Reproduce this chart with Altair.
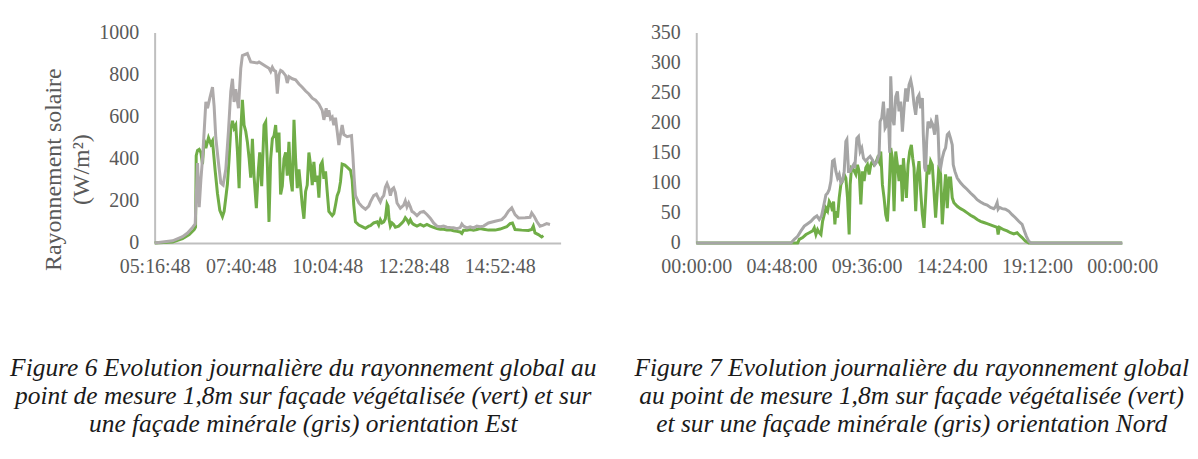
import altair as alt
import pandas as pd

FONT = "Liberation Serif"
GREY_E = "#AEAAAA"
GREY_N = "#A5A5A5"
GREEN = "#70AD47"
LABEL = "#595959"
AXIS = "#BFBFBF"

# ---------- Figure 6 : orientation Est (times = minutes after midnight) ----------
est_gris_t = [316.8, 346.8, 363.4, 371.7, 380.1, 384.5, 388.4, 391.2, 394.0, 396.7, 399.5, 402.3,
              405.1, 409.0, 413.4, 416.1, 418.9, 423.4, 427.3, 431.1, 435.6, 440.0, 443.9, 446.7,
              449.4, 452.2, 456.7, 460.6, 463.3, 471.6, 477.2, 488.3, 491.1, 502.2, 507.7, 510.5,
              513.3, 516.1, 518.8, 521.6, 524.4, 527.1, 529.9, 535.5, 538.2, 541.0, 546.6, 552.1,
              557.7, 563.2, 568.8, 574.3, 579.9, 585.4, 591.0, 596.5, 599.3, 603.2, 604.8, 607.6,
              610.4, 613.2, 615.9, 618.7, 621.5, 624.3, 627.0, 629.8, 632.6, 638.1, 645.4, 647.6,
              649.8, 652.0, 657.6, 663.1, 668.7, 674.2, 677.0, 682.5, 687.0, 690.8, 693.6, 696.4,
              699.2, 701.9, 704.7, 707.5, 710.3, 713.0, 715.8, 718.6, 721.4, 726.9, 732.5, 735.2,
              738.0, 740.8, 743.6, 746.3, 749.1, 754.7, 760.2, 765.8, 771.3, 776.9, 782.4, 788.0,
              793.5, 799.1, 804.6, 810.2, 815.7, 821.3, 826.8, 829.6, 832.4, 837.9, 843.5, 849.0,
              854.6, 860.1, 865.7, 874.0, 885.1, 896.2, 901.8, 907.3, 912.9, 918.4, 924.0, 935.1,
              943.4, 946.2, 950.6, 954.5, 960.0, 965.6, 971.1, 976.7]
est_gris_v = [0, 10, 30, 47, 74, 90, 380, 170, 300, 400, 530, 670,
              640, 690, 740, 650, 500, 380, 285, 275, 350, 530, 720, 780,
              670, 730, 640, 830, 890, 900, 860, 855, 860, 840, 830, 815,
              835, 820, 815, 710, 800, 820, 815, 795, 760, 790, 780, 775,
              755, 740, 722, 708, 688, 678, 660, 630, 585, 640, 600, 630,
              590, 598, 560, 595, 530, 465, 515, 560, 515, 505, 510, 420,
              310, 225, 190, 172, 160, 175, 195, 225, 232, 210, 195, 215,
              225, 265, 282, 262, 225, 255, 262, 240, 190, 165, 180, 200,
              172, 190, 172, 150, 145, 130, 145, 150, 135, 118, 95, 80,
              77, 80, 75, 73, 72, 68, 73, 90, 80, 72, 77, 72,
              80, 77, 80, 95, 103, 111, 127, 151, 167, 135, 119, 120,
              122, 143, 125, 103, 80, 85, 92, 88]

est_vert_t = [316.8, 346.8, 363.4, 374.5, 382.8, 385.1, 386.2, 388.4, 391.2, 394.0, 396.7, 399.5,
              402.3, 406.7, 410.6, 413.4, 417.8, 421.7, 425.6, 430.0, 432.8, 435.6, 438.3, 441.1,
              443.9, 446.7, 449.4, 452.2, 455.0, 457.8, 460.0, 463.3, 466.1, 468.9, 471.6, 474.4,
              477.2, 480.0, 482.7, 486.6, 490.0, 492.2, 495.5, 499.4, 502.2, 505.0, 507.7, 510.5,
              513.3, 516.1, 518.8, 521.6, 524.4, 527.1, 529.9, 532.7, 535.5, 538.2, 541.0, 543.8,
              546.6, 549.4, 552.1, 554.9, 557.7, 560.4, 563.2, 566.0, 568.8, 571.5, 574.3, 577.1,
              579.9, 582.6, 585.4, 588.2, 591.0, 593.7, 596.5, 599.3, 602.1, 604.8, 607.6, 613.2,
              615.9, 618.7, 621.5, 624.3, 627.0, 629.8, 634.3, 638.1, 643.7, 646.5, 649.2, 652.0,
              657.6, 663.1, 668.7, 674.2, 677.0, 682.5, 688.1, 690.8, 693.6, 696.4, 699.2, 701.9,
              704.7, 706.4, 708.0, 710.3, 713.0, 715.8, 718.6, 724.1, 729.7, 732.5, 735.2, 738.0,
              740.8, 743.6, 746.3, 749.1, 754.7, 760.2, 765.8, 771.3, 776.9, 782.4, 788.0, 793.5,
              799.1, 804.6, 810.2, 815.7, 821.3, 826.8, 829.6, 832.4, 837.9, 843.5, 849.0, 854.6,
              860.1, 865.7, 874.0, 885.1, 893.4, 899.0, 904.5, 910.1, 914.0, 918.4, 929.5, 940.6,
              946.2, 948.9, 951.7, 957.3, 962.8, 965.6]
est_vert_v = [0, 5, 20, 40, 63, 75, 415, 440, 445, 430, 375, 490,
              450, 500, 470, 485, 345, 235, 155, 125, 150, 215, 280, 400,
              545, 580, 545, 560, 435, 260, 500, 680, 560, 530, 480, 405,
              310, 495, 320, 165, 350, 430, 270, 560, 575, 370, 100, 400,
              495, 510, 560, 430, 525, 230, 270, 400, 430, 320, 480, 305,
              245, 585, 400, 260, 350, 270, 180, 115, 245, 275, 430, 370,
              275, 385, 290, 320, 215, 370, 385, 305, 340, 245, 150, 130,
              140, 180, 225, 245, 290, 375, 370, 360, 345, 300, 180, 100,
              85, 78, 70, 80, 82, 95, 100, 85, 110, 95, 100, 115,
              185, 175, 115, 80, 95, 88, 75, 80, 95, 105, 120, 110,
              95, 110, 95, 88, 80, 88, 80, 88, 80, 74, 68, 65,
              65, 62, 62, 58, 55, 52, 45, 60, 60, 64, 60, 64,
              68, 65, 61, 61, 66, 72, 77, 92, 95, 64, 61, 59,
              64, 80, 48, 40, 29, 35]

# ---------- Figure 7 : orientation Nord ----------
nord_gris_t = [0, 320.3, 331.6, 342.8, 354.0, 365.3, 376.5, 387.8, 399.0, 408.0, 415.9, 423.7,
               430.5, 438.3, 444.0, 449.6, 455.2, 460.8, 466.4, 472.1, 477.7, 483.3, 488.9, 494.5,
               500.2, 505.8, 509.2, 514.8, 520.4, 526.0, 531.6, 536.1, 542.9, 548.5, 554.1, 559.7,
               565.4, 573.2, 581.1, 587.8, 595.7, 603.6, 610.3, 618.2, 621.6, 627.2, 632.8, 638.4,
               644.0, 648.5, 654.1, 657.5, 663.1, 668.8, 674.4, 680.0, 685.6, 691.3, 696.9, 702.5,
               708.2, 713.8, 719.4, 725.0, 730.6, 736.3, 741.9, 747.5, 753.1, 758.7, 764.4, 767.7,
               772.2, 775.6, 779.0, 783.5, 790.2, 794.7, 800.3, 806.0, 812.7, 817.2, 821.7, 826.2,
               831.8, 837.4, 843.0, 848.7, 854.3, 859.9, 865.5, 868.9, 874.5, 882.4, 893.6, 904.9,
               916.1, 927.3, 938.6, 949.8, 961.1, 972.3, 983.5, 994.8, 1006.0, 1011.6, 1017.3, 1020.6,
               1025.1, 1034.1, 1045.4, 1056.6, 1067.8, 1079.1, 1090.3, 1101.6, 1109.4, 1116.2, 1124.0, 1131.9,
               1440]
nord_gris_v = [0, 0, 6, 11, 20, 28, 32, 36, 42, 45, 39, 45,
               61, 80, 83, 89, 103, 136, 138, 119, 108, 114, 100, 103,
               119, 169, 172, 119, 119, 125, 130, 125, 174, 177, 152, 158,
               141, 136, 141, 144, 138, 130, 135, 147, 202, 208, 235, 191,
               196, 224, 150, 277, 208, 196, 243, 252, 219, 235, 185, 224,
               257, 235, 263, 271, 257, 230, 213, 241, 246, 224, 241, 180,
               125, 119, 169, 202, 191, 202, 196, 180, 213, 191, 130, 125,
               141, 152, 158, 180, 183, 174, 163, 130, 119, 108, 100, 94,
               89, 83, 78, 72, 68, 65, 63, 59, 57, 60, 67, 56,
               59, 57, 56, 53, 47, 42, 36, 31, 20, 11, 3, 0,
               0]

nord_vert_t = [0, 342.8, 348.4, 359.7, 370.9, 382.1, 393.4, 399.0, 404.6, 410.2, 415.9, 421.5,
               427.1, 432.7, 438.3, 444.0, 449.6, 455.2, 460.8, 464.2, 468.7, 472.1, 477.7, 483.3,
               488.9, 494.5, 500.2, 505.8, 511.4, 517.0, 520.4, 524.9, 531.6, 539.5, 545.1, 550.7,
               556.4, 562.0, 567.6, 573.2, 578.8, 584.5, 590.1, 595.7, 601.3, 606.9, 612.6, 618.2,
               623.8, 629.4, 635.0, 640.7, 646.3, 651.9, 657.5, 663.1, 668.8, 674.4, 680.0, 685.6,
               691.3, 696.9, 700.3, 704.8, 710.4, 716.0, 721.6, 727.3, 731.8, 736.3, 741.9, 747.5,
               753.1, 758.7, 764.4, 770.0, 775.6, 781.2, 786.8, 792.5, 798.1, 803.7, 809.3, 815.0,
               820.6, 826.2, 831.8, 837.4, 843.0, 848.7, 854.3, 859.9, 865.5, 871.1, 882.4, 893.6,
               904.9, 916.1, 927.3, 938.6, 949.8, 961.1, 972.3, 983.5, 994.8, 1006.0, 1017.3, 1020.6,
               1025.1, 1039.7, 1051.0, 1062.2, 1073.5, 1084.7, 1090.3, 1101.6, 1112.8, 1124.0, 1440]
nord_vert_v = [0, 0, 6, 9, 14, 17, 20, 25, 14, 22, 17, 14,
               36, 47, 58, 53, 69, 64, 53, 69, 31, 53, 42, 75,
               97, 103, 114, 108, 75, 14, 97, 125, 122, 114, 130, 119,
               64, 119, 103, 125, 130, 114, 130, 136, 130, 133, 141, 135,
               152, 97, 75, 47, 36, 86, 158, 141, 53, 152, 130, 103,
               130, 69, 141, 114, 75, 130, 152, 163, 141, 125, 53, 114,
               136, 86, 47, 25, 75, 130, 114, 136, 130, 86, 42, 86,
               130, 114, 31, 75, 114, 58, 108, 108, 75, 67, 61, 57,
               54, 50, 46, 43, 39, 36, 34, 32, 30, 28, 26, 14,
               26, 22, 20, 17, 15, 17, 14, 9, 3, 0, 0]

est_ticks = [316.8, 460.8, 604.8, 748.8, 892.8]
nord_ticks = [0, 288, 576, 864, 1152, 1440]
est_yticks = [0, 200, 400, 600, 800, 1000]
nord_yticks = [0, 50, 100, 150, 200, 250, 300, 350]

cap_est = ["Figure 6 Evolution journalière du rayonnement global au",
           "point de mesure 1,8m sur façade végétalisée (vert) et sur",
           "une façade minérale (gris) orientation Est"]
cap_nord = ["Figure 7 Evolution journalière du rayonnement global",
            "au point de mesure 1,8m sur façade végétalisée (vert)",
            "et sur une façade minérale (gris) orientation Nord"]
ytitle = ["Rayonnement solaire", "(W/m²)"]

XLAB = "utcFormat(round(datum.value * 60000), '%H:%M:%S')"


def xaxis(vals):
    return alt.Axis(values=vals, labelExpr=XLAB, grid=False, ticks=False, domainColor=AXIS,
                    domainWidth=2, labelFont=FONT, labelFontSize=20, labelColor=LABEL,
                    labelPadding=14, labelFlush=False, labelOverlap=False, title=None)


def yaxis(vals, title=None):
    kw = dict(values=vals, format="d", grid=False, ticks=False, domainColor=AXIS, domainWidth=2,
              labelFont=FONT, labelFontSize=20, labelColor=LABEL, labelPadding=16)
    if title:
        kw.update(title=title, titleFont=FONT, titleFontSize=24, titleFontWeight="normal",
                  titleColor=LABEL, titlePadding=5, titleLineHeight=28, titleY=137)
    else:
        kw.update(title=None)
    return alt.Axis(**kw)


def panel(gt, gv, vt, vv, grey, xdom, xticks, ydom, yticks, w, caption, dx, yt=None):
    gris = pd.DataFrame({"t": gt, "v": gv})
    vert = pd.DataFrame({"t": vt, "v": vv})
    x = alt.X("t:Q", scale=alt.Scale(domain=xdom, nice=False, zero=False), axis=xaxis(xticks))
    y = alt.Y("v:Q", scale=alt.Scale(domain=ydom, nice=False), axis=yaxis(yticks, yt))
    l_vert = alt.Chart(vert).mark_line(color=GREEN, strokeWidth=3).encode(x=x, y=y)
    l_gris = alt.Chart(gris).mark_line(color=grey, strokeWidth=3).encode(x=x, y=y)
    return alt.layer(l_vert, l_gris).properties(
        width=w, height=211,
        title=alt.TitleParams(text=caption, orient="bottom", anchor="middle", frame="group",
                              font=FONT, fontStyle="italic", fontWeight="normal", fontSize=25.5,
                              lineHeight=28.5, color="#1A1A1A", offset=79, dx=dx))


left = panel(est_gris_t, est_gris_v, est_vert_t, est_vert_v, GREY_E, [316.8, 994.4], est_ticks,
             [0, 1000], est_yticks, 407, cap_est, -54.5, ytitle)
right = panel(nord_gris_t, nord_gris_v, nord_vert_t, nord_vert_v, GREY_N, [0, 1440], nord_ticks,
              [0, 350], nord_yticks, 427, cap_nord, 2.5)

chart = alt.hconcat(left, right, spacing=136, bounds="flush").properties(
    padding={"left": 1, "top": 14, "right": 0, "bottom": 5}
).configure_view(stroke=None)

chart.save("out.html", embed_options={"renderer": "svg", "actions": False})
